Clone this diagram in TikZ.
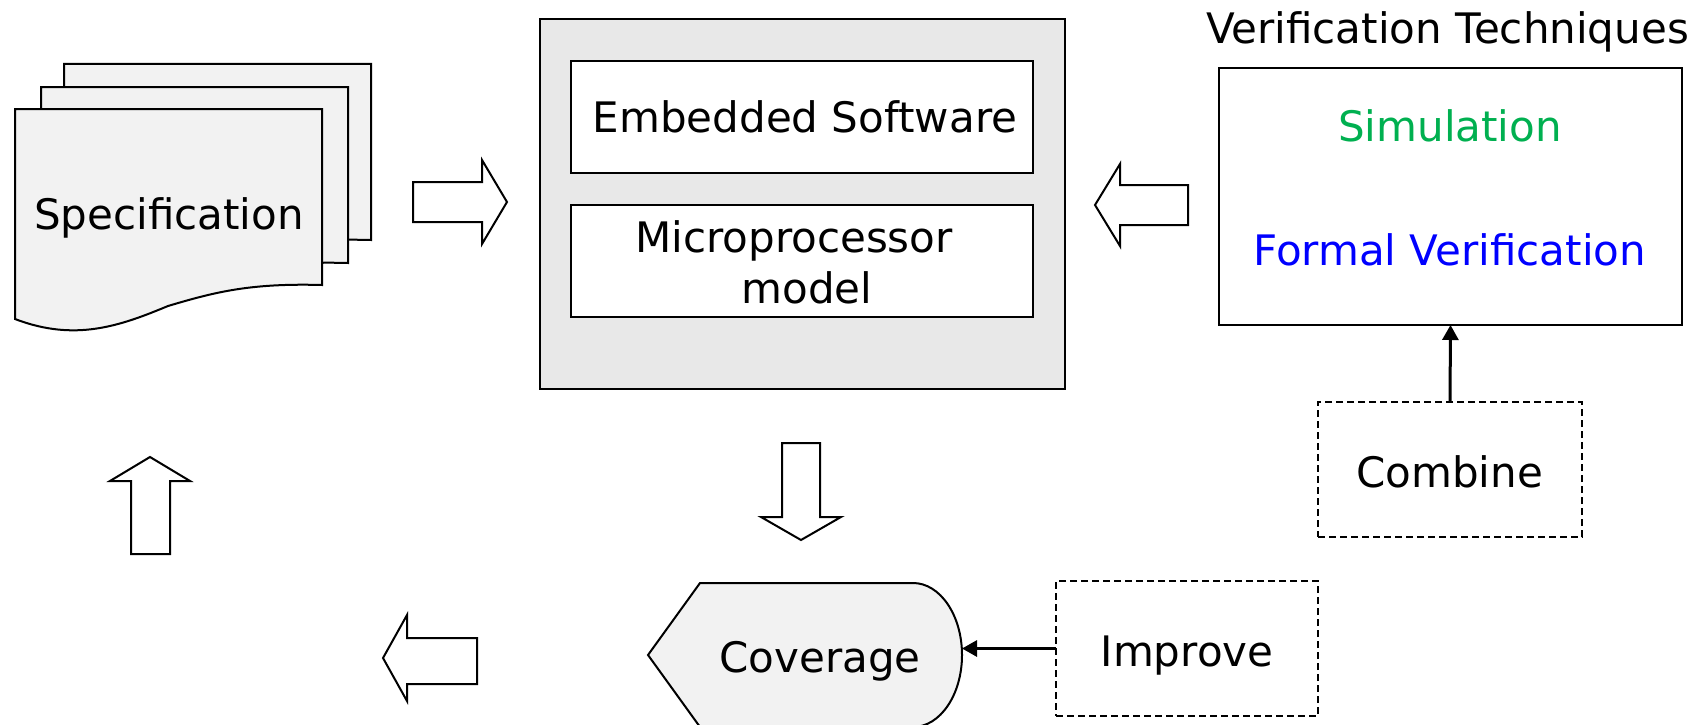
\documentclass[tikz,border=0pt]{standalone}
\usepackage{fontspec}
\setmainfont{DejaVu Sans}
\usetikzlibrary{arrows.meta}
\definecolor{pagefill}{HTML}{F2F2F2}
\definecolor{boxfill}{HTML}{E8E8E8}
\definecolor{simgreen}{HTML}{00B050}
\definecolor{fvblue}{HTML}{0000FF}
\tikzset{
  every node/.style={inner sep=0pt, outer sep=0pt},
  txt/.style={anchor=base, font=\fontsize{42}{50}\selectfont},
  solidbox/.style={draw, line width=2pt},
  dashbox/.style={draw, line width=1.8pt, dash pattern=on 7pt off 4pt},
  blockarrow/.style={draw, fill=white, line width=2pt, line join=miter},
  conn/.style={line width=3pt, -{Triangle[length=15pt,width=16pt]}},
  page/.style={draw, fill=pagefill, line width=2pt, line join=miter},
}
\begin{document}
\begin{tikzpicture}[x=1pt,y=-1pt]
\useasboundingbox (0,0) rectangle (1702,725);

% --- Specification (stack of documents)
\foreach \dx/\dy in {49/-45, 26/-22, 0/0}{
  \draw[page, shift={(\dx,\dy)}] (15,109) -- (322,109) -- (322,285)
    .. controls (250,283) and (215,292) .. (168,306)
    .. controls (120,326) and (75,342) .. (15,319) -- cycle;
}
\node[txt] (spec) at (169,229) {Specification};

% --- System box
\node[solidbox, fill=boxfill, minimum width=525.5pt, minimum height=369pt] (sys) at (802.25,204) {};
\node[solidbox, fill=white, minimum width=462pt, minimum height=111.6pt] (emb) at (802,116.8) {};
\node[txt] (embtxt) at (805,132) {Embedded Software};
\node[solidbox, fill=white, minimum width=462pt, minimum height=112pt] (micro) at (802,261) {};
\node[txt] (microtxt) at (794,252) {Microprocessor};
\node[txt] (modeltxt) at (807,303) {model};

% --- Verification techniques
\node[txt] (vttitle) at (1447.5,44) {Verification Techniques};
\node[solidbox, fill=white, minimum width=463pt, minimum height=257pt] (verif) at (1450.5,196.5) {};
\node[txt, text=simgreen] (sim) at (1450,141.7) {Simulation};
\node[txt, text=fvblue] (fv) at (1449.7,265) {Formal Verification};

% --- Combine / Improve
\node[dashbox, minimum width=264pt, minimum height=135pt] (combine) at (1450,469.5) {};
\node[txt] (combinetxt) at (1449.7,487) {Combine};
\node[dashbox, minimum width=262pt, minimum height=135pt] (improve) at (1187,648.5) {};
\node[txt] (improvetxt) at (1187,666) {Improve};

% --- Coverage
\draw[page] (648,655) -- (700,583) -- (913,583)
  .. controls (940.06,583) and (962,615.23) .. (962,655)
  .. controls (962,694.77) and (940.06,727) .. (913,727)
  -- (700,727) -- cycle;
\coordinate (covE) at (962,648.5);
\node[txt] (coverage) at (820,672) {Coverage};

% --- connectors
\draw[conn] (combine.north) -- (verif.south);
\draw[conn] (improve.west) -- (covE);

% --- block arrows
\draw[blockarrow] (413,182) -- (482,182) -- (482,160) -- (507,202) -- (482,244) -- (482,222) -- (413,222) -- cycle;
\draw[blockarrow] (1188,185) -- (1120,185) -- (1120,164) -- (1095,205) -- (1120,246) -- (1120,225) -- (1188,225) -- cycle;
\draw[blockarrow] (782,443) -- (782,517) -- (761,517) -- (801,540) -- (841,517) -- (820,517) -- (820,443) -- cycle;
\draw[blockarrow] (131,554) -- (131,481) -- (110,481) -- (150,457) -- (190,481) -- (170,481) -- (170,554) -- cycle;
\draw[blockarrow] (477,638) -- (407,638) -- (407,615) -- (383,658) -- (407,701) -- (407,684) -- (477,684) -- cycle;
\end{tikzpicture}
\end{document}
